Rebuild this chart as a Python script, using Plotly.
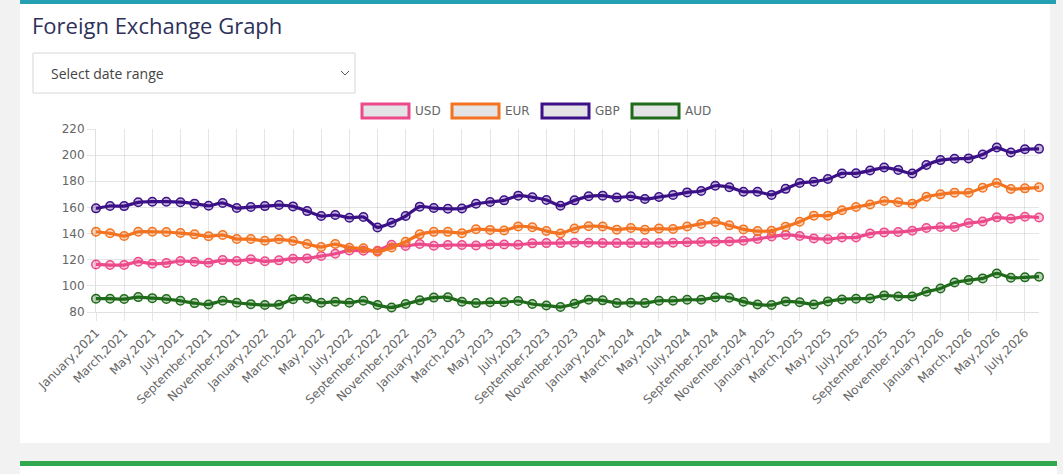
import plotly.graph_objects as go

# month labels, January 2021 .. August 2026
month_names = ["January", "February", "March", "April", "May", "June", "July",
               "August", "September", "October", "November", "December"]
years = [2021, 2022, 2023, 2024, 2025, 2026]
months = [m + "," + str(y) for y in years for m in month_names][:68]

usd = [116.4, 115.9, 115.9, 118.5, 116.9, 117.4, 119.0, 118.5, 117.7, 119.7,
       119.0, 120.3, 118.8, 119.5, 120.8, 121.0, 122.8, 124.6, 127.1, 126.9,
       126.9, 131.5, 130.5, 132.0, 130.7, 131.2, 131.2, 130.9, 131.7, 131.7,
       131.4, 132.5, 132.7, 132.7, 133.0, 133.0, 132.7, 132.7, 132.7, 132.7,
       132.8, 133.0, 133.3, 133.5, 133.8, 134.0, 134.6, 135.8, 137.7, 139.0,
       138.1, 136.3, 135.7, 137.0, 137.0, 140.0, 140.9, 141.2, 142.2, 144.2,
       145.0, 145.1, 148.1, 149.2, 152.4, 151.4, 152.9, 152.3]
eur = [141.4, 140.2, 138.1, 141.4, 141.4, 141.2, 140.4, 139.4, 137.9, 138.9,
       135.8, 135.8, 134.5, 135.6, 134.3, 132.0, 129.7, 132.0, 129.2, 128.7,
       126.1, 129.4, 133.8, 139.4, 141.3, 141.3, 140.3, 143.3, 142.8, 142.4,
       145.5, 144.8, 142.0, 140.1, 143.8, 145.6, 145.4, 143.0, 144.2, 142.9,
       143.8, 143.5, 145.4, 147.4, 148.9, 146.3, 143.2, 141.9, 142.2, 145.3,
       149.1, 153.7, 153.7, 157.8, 160.3, 162.3, 164.9, 163.9, 162.9, 168.2,
       170.0, 171.3, 171.3, 175.1, 178.7, 174.1, 174.6, 175.4]
gbp = [159.3, 161.1, 161.0, 163.9, 164.4, 164.4, 164.0, 162.9, 161.3, 163.4,
       159.5, 160.3, 161.0, 161.8, 160.8, 157.2, 153.4, 154.2, 152.1, 152.7,
       144.7, 148.3, 153.4, 160.6, 159.5, 159.0, 159.2, 162.8, 164.2, 165.4,
       169.0, 167.8, 165.7, 161.3, 165.4, 168.5, 169.0, 167.5, 168.5, 166.4,
       168.0, 169.5, 171.5, 172.6, 176.6, 175.5, 172.0, 172.0, 169.6, 174.2,
       178.7, 179.7, 181.7, 186.0, 186.1, 188.2, 190.5, 188.7, 186.0, 192.5,
       196.2, 197.2, 197.5, 200.5, 205.8, 202.0, 204.5, 204.8]
aud = [90.2, 90.2, 89.9, 91.4, 90.6, 89.9, 88.6, 86.8, 85.8, 88.6,
       87.1, 86.0, 85.3, 85.6, 89.8, 90.2, 87.1, 87.9, 87.1, 88.6,
       85.3, 83.5, 86.1, 88.9, 91.0, 91.2, 87.9, 86.8, 87.4, 87.4,
       88.4, 86.1, 85.0, 83.8, 86.3, 89.4, 88.9, 86.8, 87.1, 86.8,
       88.6, 88.6, 89.4, 89.4, 91.2, 90.9, 87.9, 85.8, 85.3, 88.1,
       87.4, 85.8, 88.1, 89.6, 90.2, 90.4, 92.7, 91.9, 91.9, 95.5,
       98.0, 102.6, 104.4, 105.7, 109.5, 106.2, 106.5, 107.0]

series = [("USD", usd, (236, 74, 139)),
          ("EUR", eur, (243, 115, 33)),
          ("GBP", gbp, (60, 17, 135)),
          ("AUD", aud, (31, 107, 26))]

W, H = 1063, 474
L, R, T, B = 96, 24, 129, 162


def px(x):
    return (x - L) / (W - L - R)


def py(y):
    return (H - B - y) / (H - T - B)


fig = go.Figure()
for name, vals, (r, g, b) in series:
    fig.add_trace(go.Scatter(
        x=months, y=vals, name=name, mode="lines+markers",
        line=dict(color=f"rgb({r},{g},{b})", width=3.2, shape="spline", smoothing=0.6),
        marker=dict(size=8.5, color=f"rgba({r},{g},{b},0.3)",
                    line=dict(color=f"rgb({r},{g},{b})", width=1.5)),
        cliponaxis=False, showlegend=False,
    ))

shapes = [
    # page card and bars
    dict(type="rect", x0=px(20), x1=px(1050), y0=py(0), y1=py(443),
         fillcolor="white", line_width=0, layer="below"),
    dict(type="rect", x0=px(20), x1=px(1056), y0=py(0), y1=py(4),
         fillcolor="#25a0b3", line_width=0, layer="below"),
    dict(type="rect", x0=px(20), x1=px(1057), y0=py(461), y1=py(474),
         fillcolor="white", line_width=0, layer="below"),
    dict(type="rect", x0=px(20), x1=px(1057), y0=py(461), y1=py(466),
         fillcolor="#31a84d", line_width=0, layer="below"),
    # select box
    dict(type="rect", x0=px(33), x1=px(355), y0=py(53), y1=py(93),
         fillcolor="white", line=dict(color="#d6d6d6", width=1), layer="below"),
    dict(type="path", path=f"M {px(341)},{py(71)} L {px(345)},{py(75)} L {px(349)},{py(71)}",
         xref="paper", yref="paper", line=dict(color="#555", width=1), layer="below"),
]

annotations = [
    dict(text="Foreign Exchange Graph", x=px(30), y=py(25), xanchor="left", yanchor="middle",
         font=dict(family="Open Sans", size=22, color="#2e3159")),
    dict(text="Select date range", x=px(49), y=py(73), xanchor="left", yanchor="middle",
         font=dict(family="Open Sans", size=14, color="#444")),
]

# legend boxes drawn by hand, Chart.js style
legend_x = [362, 452, 542, 632]
for (name, vals, (r, g, b)), lx in zip(series, legend_x):
    shapes.append(dict(type="rect", x0=px(lx), x1=px(lx + 47), y0=py(104), y1=py(118),
                       fillcolor="#e4e3e6", line=dict(color=f"rgb({r},{g},{b})", width=3)))
    annotations.append(dict(text=name, x=px(lx + 51), y=py(111), xanchor="left", yanchor="middle",
                            font=dict(family="DejaVu Sans", size=12, color="#666")))

for a in annotations:
    a.update(xref="paper", yref="paper", showarrow=False)
for s in shapes:
    s.update(xref="paper", yref="paper")

fig.update_layout(
    width=W, height=H,
    margin=dict(l=L, r=R, t=T, b=B, pad=0),
    paper_bgcolor="#f2f2f2", plot_bgcolor="white",
    shapes=shapes, annotations=annotations,
    font=dict(family="DejaVu Sans", size=12, color="#666"),
)
fig.update_xaxes(
    type="category", range=[0, len(months) - 1],
    tickvals=months[::2], ticktext=months[::2], tickangle=-45,
    showgrid=True, gridcolor="rgba(0,0,0,0.1)", gridwidth=1,
    ticks="outside", ticklen=8, tickcolor="rgba(0,0,0,0.1)",
    showline=True, linecolor="rgba(0,0,0,0.12)",
    tickfont=dict(family="DejaVu Sans", size=12, color="#666"),
)
fig.update_yaxes(
    range=[80, 220], dtick=20, tick0=80,
    showgrid=True, gridcolor="rgba(0,0,0,0.1)", zeroline=False,
    ticks="outside", ticklen=8, tickcolor="rgba(0,0,0,0.1)",
    showline=True, linecolor="rgba(0,0,0,0.12)",
    tickfont=dict(family="DejaVu Sans", size=12, color="#666"),
)

fig.write_html("out.html", config={"displayModeBar": False},
               post_script="document.body.style.margin='0';document.body.style.overflow='hidden';")
